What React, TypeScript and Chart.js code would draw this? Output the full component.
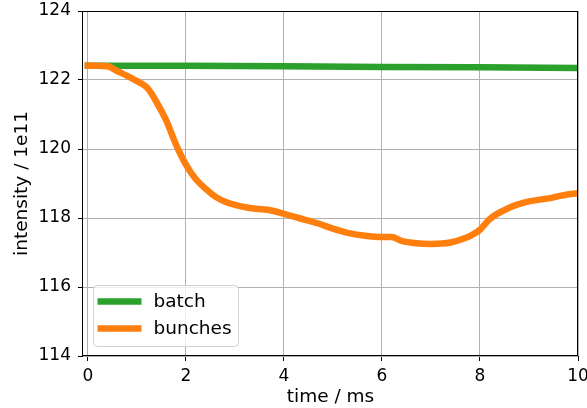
import React, { useEffect, useRef } from "react";
import { Chart, registerables } from "chart.js";

Chart.register(...registerables);

const timeBunches = [0, 0.2, 0.4, 0.6, 0.8, 1.0, 1.1, 1.2, 1.3, 1.4, 1.6, 1.8, 2.0, 2.2, 2.4, 2.6, 2.8, 3.0, 3.3, 3.7, 4.0, 4.3, 4.7, 5.0, 5.3, 5.7, 6.0, 6.2, 6.4, 6.7, 7.0, 7.4, 7.7, 7.85, 8.0, 8.1, 8.2, 8.35, 8.5, 8.7, 9.0, 9.4, 9.7, 10.0];
const bunchesValues = [122.41, 122.41, 122.4, 122.26, 122.12, 121.97, 121.89, 121.79, 121.6, 121.36, 120.82, 120.12, 119.55, 119.13, 118.85, 118.62, 118.47, 118.38, 118.29, 118.23, 118.12, 118.0, 117.84, 117.69, 117.57, 117.48, 117.45, 117.45, 117.34, 117.27, 117.25, 117.29, 117.42, 117.52, 117.66, 117.82, 117.97, 118.12, 118.23, 118.36, 118.48, 118.57, 118.66, 118.72];
const timeBatch = [0, 2, 4, 6, 8, 10];
const batchValues = [122.41, 122.41, 122.4, 122.38, 122.37, 122.35];
const xTicks = [0, 2, 4, 6, 8, 10];
const yTicks = [114, 116, 118, 120, 122, 124];
const seriesNames = ["batch", "bunches"];
const GREEN = "#2ca02c";
const ORANGE = "#ff7f0e";
const FONT = "DejaVu Sans";
const TICK_SIZE = 17;
const LABEL_SIZE = 18.5;

const framePlugin = {
  id: "frame",
  afterDatasetsDraw(chart: any) {
    const { ctx, chartArea } = chart;
    const { left, right, top, bottom } = chartArea;
    ctx.save();
    ctx.strokeStyle = "#000";
    ctx.lineWidth = 1;
    ctx.strokeRect(Math.round(left) - 0.5, Math.round(top) + 0.5, Math.round(right) - Math.round(left), Math.round(bottom) - Math.round(top) - 1);
    ctx.restore();

    // legend
    const lx = left + 10.5;
    const ly = bottom - 70.5;
    const lw = 145;
    const lh = 61;
    ctx.save();
    ctx.beginPath();
    const r = 4;
    ctx.moveTo(lx + r, ly);
    ctx.lineTo(lx + lw - r, ly);
    ctx.quadraticCurveTo(lx + lw, ly, lx + lw, ly + r);
    ctx.lineTo(lx + lw, ly + lh - r);
    ctx.quadraticCurveTo(lx + lw, ly + lh, lx + lw - r, ly + lh);
    ctx.lineTo(lx + r, ly + lh);
    ctx.quadraticCurveTo(lx, ly + lh, lx, ly + lh - r);
    ctx.lineTo(lx, ly + r);
    ctx.quadraticCurveTo(lx, ly, lx + r, ly);
    ctx.closePath();
    ctx.fillStyle = "rgba(255,255,255,0.8)";
    ctx.fill();
    ctx.strokeStyle = "#d0d0d0";
    ctx.lineWidth = 1;
    ctx.stroke();
    const colors = [GREEN, ORANGE];
    seriesNames.forEach((name, i) => {
      const yy = ly + 16 + i * 27;
      ctx.beginPath();
      ctx.strokeStyle = colors[i];
      ctx.lineWidth = 6.5;
      ctx.lineCap = "butt";
      ctx.moveTo(lx + 4, yy);
      ctx.lineTo(lx + 48, yy);
      ctx.stroke();
      ctx.fillStyle = "#000";
      ctx.font = `${LABEL_SIZE}px "${FONT}"`;
      ctx.textBaseline = "middle";
      ctx.textAlign = "left";
      ctx.fillText(name, lx + 60, yy + 1);
    });
    ctx.restore();
  },
};

export default function App() {
  const ref = useRef<HTMLCanvasElement>(null);
  useEffect(() => {
    const chart = new Chart(ref.current!, {
      type: "line",
      data: {
        datasets: [
          {
            label: seriesNames[1],
            data: timeBunches.map((t, i) => ({ x: t, y: bunchesValues[i] })),
            borderColor: ORANGE,
            backgroundColor: ORANGE,
            borderWidth: 6.5,
            pointRadius: 0,
            cubicInterpolationMode: "monotone",
            borderCapStyle: "square",
            borderJoinStyle: "round",
            clip: 0,
            order: 0,
          },
          {
            label: seriesNames[0],
            data: timeBatch.map((t, i) => ({ x: t, y: batchValues[i] })),
            borderColor: GREEN,
            backgroundColor: GREEN,
            borderWidth: 6.5,
            pointRadius: 0,
            tension: 0,
            borderCapStyle: "square",
            clip: 0,
            order: 1,
          },
        ],
      },
      options: {
        animation: false,
        responsive: false,
        maintainAspectRatio: false,
        layout: { padding: { top: 11, right: 9, left: 0, bottom: 0 } },
        plugins: { legend: { display: false }, tooltip: { enabled: false } },
        scales: {
          x: {
            type: "linear",
            min: -0.1,
            max: 10,
            afterBuildTicks: (s: any) => {
              s.ticks = xTicks.map((v) => ({ value: v }));
            },
            afterFit: (s: any) => {
              s.height = 52;
              s.paddingLeft = 0;
              s.paddingRight = 0;
            },
            ticks: { color: "#000", font: { family: FONT, size: TICK_SIZE }, padding: 5, maxRotation: 0, autoSkip: false },
            grid: { color: "#b0b0b0", lineWidth: 1, tickColor: "#000", tickLength: 5, drawTicks: true },
            border: { display: false },
            title: { display: true, text: "time / ms", color: "#000", font: { family: FONT, size: LABEL_SIZE }, padding: { top: 0, bottom: 0 } },
          },
          y: {
            type: "linear",
            min: 114,
            max: 124,
            afterBuildTicks: (s: any) => {
              s.ticks = yTicks.map((v) => ({ value: v }));
            },
            afterFit: (s: any) => {
              s.width = 83;
              s.paddingTop = 0;
              s.paddingBottom = 0;
            },
            ticks: { color: "#000", font: { family: FONT, size: TICK_SIZE }, padding: 7, autoSkip: false },
            grid: { color: "#b0b0b0", lineWidth: 1, tickColor: "#000", tickLength: 5, drawTicks: true },
            border: { display: false },
            title: { display: true, text: "intensity / 1e11", color: "#000", font: { family: FONT, size: LABEL_SIZE }, padding: { top: 11, bottom: 0 } },
          },
        },
      },
      plugins: [framePlugin],
    } as any);
    return () => chart.destroy();
  }, []);
  return (
    <div style={{ position: "absolute", left: 0, top: 0, width: 587, height: 408 }}>
      <canvas ref={ref} width={587} height={408} style={{ width: 587, height: 408, display: "block" }} />
    </div>
  );
}
